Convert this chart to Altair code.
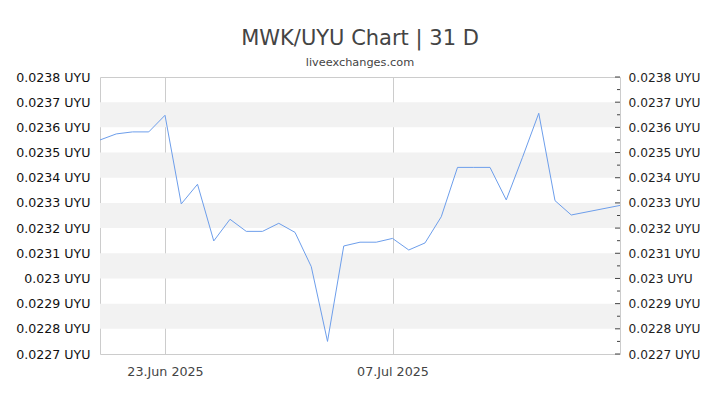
import altair as alt
import pandas as pd

dates = [
    "2025-06-19", "2025-06-20", "2025-06-21", "2025-06-22", "2025-06-23",
    "2025-06-24", "2025-06-25", "2025-06-26", "2025-06-27", "2025-06-28",
    "2025-06-29", "2025-06-30", "2025-07-01", "2025-07-02", "2025-07-03",
    "2025-07-04", "2025-07-05", "2025-07-06", "2025-07-07", "2025-07-08",
    "2025-07-09", "2025-07-10", "2025-07-11", "2025-07-12", "2025-07-13",
    "2025-07-14", "2025-07-15", "2025-07-16", "2025-07-17", "2025-07-18",
    "2025-07-21",
]
rates = [
    0.02355, 0.023574, 0.023582, 0.023582, 0.023648,
    0.023296, 0.023374, 0.023149, 0.023235, 0.023187,
    0.023187, 0.023219, 0.023183, 0.023047, 0.022750,
    0.023129, 0.023144, 0.023144, 0.023159, 0.023113,
    0.023141, 0.023245, 0.023441, 0.023441, 0.023441,
    0.023312, 0.023481, 0.023656, 0.023309, 0.023252,
    0.023290,
]
y_ticks = [0.0227, 0.0228, 0.0229, 0.0230, 0.0231, 0.0232,
           0.0233, 0.0234, 0.0235, 0.0236, 0.0237, 0.0238]
minor_ticks = [0.02275, 0.02285, 0.02295, 0.02305, 0.02315, 0.02325,
               0.02335, 0.02345, 0.02355, 0.02365, 0.02375]
band_lo = [0.0228, 0.0230, 0.0232, 0.0234, 0.0236]
band_hi = [0.0229, 0.0231, 0.0233, 0.0235, 0.0237]

df = pd.DataFrame({"date": dates, "rate": rates})
bands = pd.DataFrame({"lo": band_lo, "hi": band_hi})
major_df = pd.DataFrame({"v": y_ticks})
minor_df = pd.DataFrame({"v": minor_ticks})

W, H = 520, 277
yscale = alt.Scale(domain=[0.0227, 0.0238], nice=False, zero=False)
label_expr = "format(datum.value, '.4~f') + ' UYU'"

band_layer = alt.Chart(bands).mark_rect(color="#f2f2f2").encode(
    y=alt.Y("lo:Q", scale=yscale, axis=None),
    y2="hi:Q",
)

line_layer = alt.Chart(df).mark_line(color="#6d9eeb", strokeWidth=1).encode(
    x=alt.X(
        "date:T",
        scale=alt.Scale(type="utc", nice=False),
        title=None,
        axis=alt.Axis(
            values=[
                alt.DateTime(year=2025, month=6, date=23, utc=True),
                alt.DateTime(year=2025, month=7, date=7, utc=True),
            ],
            format="%d.%b %Y",
            grid=True,
            gridColor="#cccccc",
            ticks=False,
            domain=False,
            labelPadding=11,
            labelFontSize=12.7,
            labelColor="#444444",
        ),
    ),
    y=alt.Y(
        "rate:Q",
        scale=yscale,
        title=None,
        axis=alt.Axis(
            orient="left",
            values=y_ticks,
            labelExpr=label_expr,
            ticks=False,
            domain=False,
            grid=False,
            labelPadding=10,
            labelFontSize=12.6,
            labelColor="#111111",
        ),
    ),
)

major_layer = alt.Chart(major_df).mark_rule(color="#444444", strokeWidth=1).encode(
    y=alt.Y(
        "v:Q",
        scale=yscale,
        title=None,
        axis=alt.Axis(
            orient="right",
            values=y_ticks,
            labelExpr=label_expr,
            ticks=False,
            domain=False,
            grid=False,
            labelPadding=8,
            labelFontSize=12.2,
            labelColor="#222222",
        ),
    ),
    x=alt.value(W - 5),
    x2=alt.value(W),
)

minor_layer = alt.Chart(minor_df).mark_rule(color="#444444", strokeWidth=1).encode(
    y=alt.Y("v:Q", scale=yscale, axis=None),
    x=alt.value(W - 3),
    x2=alt.value(W),
)

chart = (
    alt.layer(band_layer, line_layer, major_layer, minor_layer)
    .resolve_axis(y="independent")
    .properties(
        width=W,
        height=H,
        autosize=alt.AutoSizeParams(type="none"),
        padding={"left": 92, "top": 69, "right": 92, "bottom": 43},
        title=alt.TitleParams(
            text="MWK/UYU Chart | 31 D",
            subtitle="liveexchanges.com",
            fontSize=21,
            fontWeight="normal",
            color="#444444",
            subtitleFontSize=11.3,
            subtitleColor="#444444",
            subtitlePadding=8,
            anchor="middle",
            offset=3,
        ),
    )
    .configure(font="DejaVu Sans")
    .configure_view(stroke="#cccccc")
)

chart.save("out.html", embed_options={"renderer": "svg", "actions": False})
